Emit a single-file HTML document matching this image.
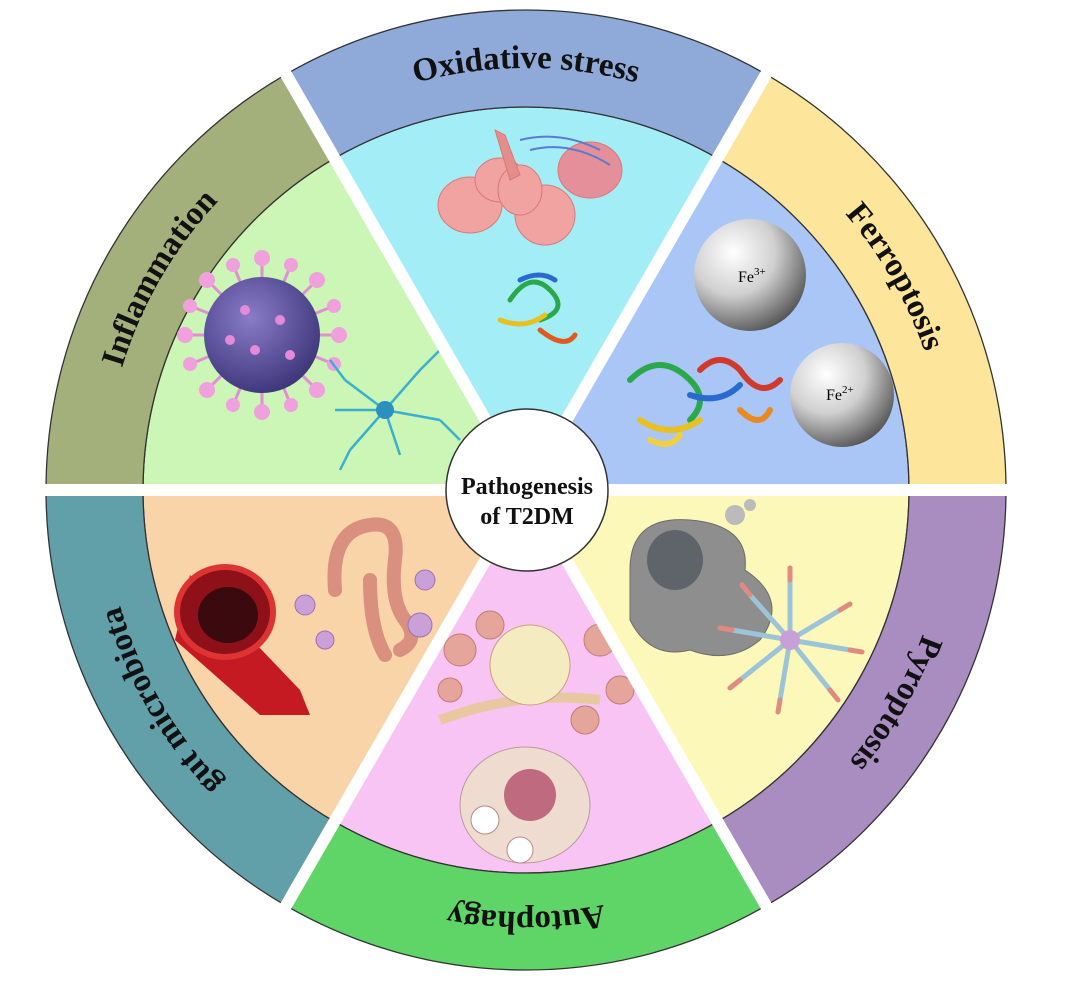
<!DOCTYPE html>
<html><head><meta charset="utf-8"><style>html,body{margin:0;padding:0;background:#fff}svg{display:block}</style></head>
<body>
<svg width="1082" height="983" viewBox="0 0 1082 983" xmlns="http://www.w3.org/2000/svg">
<defs>
<radialGradient id="fe" cx="35%" cy="30%" r="75%">
<stop offset="0" stop-color="#ffffff"/><stop offset="0.5" stop-color="#d0d0d0"/><stop offset="1" stop-color="#555"/>
</radialGradient>
<radialGradient id="vir" cx="40%" cy="35%" r="70%">
<stop offset="0" stop-color="#8a7cc8"/><stop offset="1" stop-color="#3b3478"/>
</radialGradient>
<path id="tp" d="M 104 490 A 422 422 0 1 1 948 490 A 422 422 0 1 1 104 490"/>
</defs>
<g stroke="#333" stroke-width="1.3">
<path d="M526 490 L909 490 A383 383 0 0 0 717.5 158.3 Z" fill="#a9c6f7"/>
<path d="M526 490 L717.5 158.3 A383 383 0 0 0 334.5 158.3 Z" fill="#a3eef6"/>
<path d="M526 490 L334.5 158.3 A383 383 0 0 0 143 490 Z" fill="#cbf6b6"/>
<path d="M526 490 L143 490 A383 383 0 0 0 334.5 821.7 Z" fill="#f9d4a9"/>
<path d="M526 490 L334.5 821.7 A383 383 0 0 0 717.5 821.7 Z" fill="#f7c4f4"/>
<path d="M526 490 L717.5 821.7 A383 383 0 0 0 909 490 Z" fill="#fbf8b9"/>
<path d="M1006 490 A480 480 0 0 0 766 74.3 L717.5 158.3 A383 383 0 0 1 909 490 Z" fill="#fde59b"/>
<path d="M766 74.3 A480 480 0 0 0 286 74.3 L334.5 158.3 A383 383 0 0 1 717.5 158.3 Z" fill="#8fa9d9"/>
<path d="M286 74.3 A480 480 0 0 0 46 490 L143 490 A383 383 0 0 1 334.5 158.3 Z" fill="#a4b07b"/>
<path d="M46 490 A480 480 0 0 0 286 905.7 L334.5 821.7 A383 383 0 0 1 143 490 Z" fill="#61a0a9"/>
<path d="M286 905.7 A480 480 0 0 0 766 905.7 L717.5 821.7 A383 383 0 0 1 334.5 821.7 Z" fill="#60d567"/>
<path d="M766 905.7 A480 480 0 0 0 1006 490 L909 490 A383 383 0 0 1 717.5 821.7 Z" fill="#a98dc1"/>
</g>
<g fill="#f0a3a0" stroke="#d77" stroke-width="1">
<ellipse cx="470" cy="205" rx="32" ry="28"/><ellipse cx="500" cy="180" rx="25" ry="22"/>
<ellipse cx="545" cy="215" rx="30" ry="30"/><ellipse cx="520" cy="190" rx="22" ry="25"/>
<ellipse cx="590" cy="170" rx="32" ry="28" fill="#e58f9a"/>
<path d="M495 130 L505 135 L520 175 L510 180 Z" fill="#e38d8d"/>
</g>
<g fill="none" stroke="#5a7bd0" stroke-width="2"><path d="M520 140 Q560 130 600 150"/><path d="M530 150 Q570 140 610 165"/></g>
<g fill="none" stroke-width="5" stroke-linecap="round">
<path d="M510 300 q20 -30 40 -10 q20 20 -10 30" stroke="#2aa84a"/>
<path d="M500 320 q25 10 45 -5" stroke="#e8c020"/>
<path d="M540 330 q25 20 35 5" stroke="#e05a20"/>
<path d="M520 280 q20 -10 35 0" stroke="#2a6ad0"/>
</g>
<circle cx="750" cy="275" r="56" fill="url(#fe)"/>
<text x="738" y="282" font-family="Liberation Serif,serif" font-size="16">Fe<tspan dy="-7" font-size="11">3+</tspan></text>
<circle cx="842" cy="395" r="52" fill="url(#fe)"/>
<text x="826" y="400" font-family="Liberation Serif,serif" font-size="16">Fe<tspan dy="-7" font-size="11">2+</tspan></text>
<g fill="none" stroke-width="6" stroke-linecap="round">
<path d="M630 380 q30 -30 60 0 q20 20 0 40" stroke="#2aa84a"/>
<path d="M640 420 q30 20 60 0" stroke="#e8c020"/>
<path d="M700 370 q20 -20 40 0 q20 30 40 10" stroke="#d03a2a"/>
<path d="M740 410 q20 20 30 0" stroke="#e88a20"/>
<path d="M690 395 q30 10 50 -10" stroke="#2a6ad0"/>
<path d="M650 440 q20 10 30 -5" stroke="#f0d040"/>
</g>
<g stroke="#e090d0" stroke-width="3">
<line x1="262" y1="255" x2="262" y2="415"/><line x1="182" y1="335" x2="342" y2="335"/>
<line x1="205" y1="278" x2="319" y2="392"/><line x1="319" y1="278" x2="205" y2="392"/>
<line x1="232" y1="262" x2="292" y2="408"/><line x1="292" y1="262" x2="232" y2="408"/>
<line x1="188" y1="305" x2="336" y2="365"/><line x1="188" y1="365" x2="336" y2="305"/>
</g>
<g fill="#f0a0dd"><circle cx="262" cy="258" r="8"/><circle cx="262" cy="412" r="8"/><circle cx="185" cy="335" r="8"/><circle cx="339" cy="335" r="8"/><circle cx="207" cy="280" r="8"/><circle cx="317" cy="390" r="8"/><circle cx="317" cy="280" r="8"/><circle cx="207" cy="390" r="8"/><circle cx="233" cy="265" r="7"/><circle cx="291" cy="405" r="7"/><circle cx="291" cy="265" r="7"/><circle cx="233" cy="405" r="7"/><circle cx="190" cy="306" r="7"/><circle cx="334" cy="364" r="7"/><circle cx="190" cy="364" r="7"/><circle cx="334" cy="306" r="7"/></g>
<circle cx="262" cy="335" r="58" fill="url(#vir)"/>
<g fill="#e48ad6"><circle cx="245" cy="310" r="5"/><circle cx="280" cy="320" r="5"/><circle cx="255" cy="350" r="5"/><circle cx="290" cy="355" r="5"/><circle cx="230" cy="340" r="5"/></g>
<g stroke="#3ab0d0" stroke-width="2.5" fill="none">
<path d="M385 410 L345 380 M385 410 L420 370 M385 410 L440 420 M385 410 L400 455 M385 410 L350 450 M385 410 L335 410 M345 380 L330 360 M420 370 L440 350 M440 420 L460 440 M350 450 L340 470"/>
</g>
<circle cx="385" cy="410" r="9" fill="#2a90c0"/>
<path d="M190 575 L300 690 L310 715 L260 715 L175 640 Z" fill="#c51a22"/>
<ellipse cx="225" cy="612" rx="48" ry="45" fill="#8e1018" stroke="#d33" stroke-width="6"/>
<ellipse cx="228" cy="615" rx="30" ry="28" fill="#3a0a0e"/>
<g fill="none" stroke="#d9907f" stroke-width="14" stroke-linecap="round">
<path d="M335 590 Q330 530 370 525 Q400 520 395 560 Q390 600 405 620 Q420 640 400 650"/>
<path d="M370 580 Q370 630 385 655"/>
</g>
<g fill="#c9a0d8" stroke="#a070b0"><circle cx="305" cy="605" r="10"/><circle cx="325" cy="640" r="9"/><circle cx="425" cy="580" r="10"/><circle cx="420" cy="625" r="12"/></g>
<path d="M630 570 Q630 515 690 520 Q750 525 745 570 Q790 600 760 640 Q730 665 690 650 Q650 660 630 620 Z" fill="#8e8e8e" stroke="#6c6c6c"/>
<ellipse cx="675" cy="560" rx="28" ry="30" fill="#5f646b"/>
<circle cx="735" cy="515" r="10" fill="#bbb"/><circle cx="750" cy="505" r="6" fill="#bbb"/>
<g stroke-width="5" stroke-linecap="round">
<g stroke="#9cc4d8"><line x1="790" y1="640" x2="790" y2="580"/><line x1="790" y1="640" x2="840" y2="610"/><line x1="790" y1="640" x2="850" y2="650"/><line x1="790" y1="640" x2="830" y2="690"/><line x1="790" y1="640" x2="780" y2="700"/><line x1="790" y1="640" x2="740" y2="680"/><line x1="790" y1="640" x2="732" y2="630"/><line x1="790" y1="640" x2="750" y2="595"/></g>
<g stroke="#e08a80"><line x1="790" y1="580" x2="790" y2="568"/><line x1="840" y1="610" x2="850" y2="604"/><line x1="850" y1="650" x2="862" y2="652"/><line x1="830" y1="690" x2="838" y2="700"/><line x1="780" y1="700" x2="778" y2="712"/><line x1="740" y1="680" x2="730" y2="688"/><line x1="732" y1="630" x2="720" y2="628"/><line x1="750" y1="595" x2="742" y2="585"/></g>
</g>
<circle cx="790" cy="640" r="10" fill="#c8a0d8"/>
<g fill="#e6a59a" stroke="#c07d75"><circle cx="460" cy="650" r="16"/><circle cx="490" cy="625" r="14"/><circle cx="600" cy="640" r="16"/><circle cx="620" cy="690" r="14"/><circle cx="585" cy="720" r="14"/><circle cx="450" cy="690" r="12"/></g>
<path d="M440 720 Q520 690 600 700" stroke="#e8c8a0" stroke-width="10" fill="none"/>
<circle cx="530" cy="665" r="40" fill="#f4ecc0" stroke="#c9a080"/>
<ellipse cx="525" cy="805" rx="65" ry="58" fill="#eedcd0" stroke="#b99"/>
<circle cx="530" cy="795" r="26" fill="#c06a80"/>
<circle cx="485" cy="820" r="14" fill="#fff" stroke="#b88"/><circle cx="520" cy="850" r="13" fill="#fff" stroke="#b88"/>
<g stroke="#fff" stroke-width="12" stroke-linecap="butt">
<line x1="526" y1="490" x2="1030" y2="490"/><line x1="526" y1="490" x2="22" y2="490"/>
<line x1="526" y1="490" x2="778" y2="53.5"/><line x1="526" y1="490" x2="274" y2="53.5"/>
<line x1="526" y1="490" x2="274" y2="926.5"/><line x1="526" y1="490" x2="778" y2="926.5"/>
</g>
<circle cx="527" cy="490" r="81" fill="#fff" stroke="#333" stroke-width="1.5"/>
<g font-family="Liberation Serif,serif" font-weight="bold" font-size="24" text-anchor="middle" fill="#111">
<text x="527" y="494">Pathogenesis</text><text x="527" y="524">of T2DM</text>
</g>
<g font-family="Liberation Serif,serif" font-weight="bold" font-size="33" fill="#111" text-anchor="middle">
<text><textPath href="#tp" startOffset="8.33%">Inflammation</textPath></text>
<text><textPath href="#tp" startOffset="25%">Oxidative stress</textPath></text>
<text><textPath href="#tp" startOffset="41.67%">Ferroptosis</textPath></text>
<text><textPath href="#tp" startOffset="58.33%">Pyroptosis</textPath></text>
<text><textPath href="#tp" startOffset="75%">Autophagy</textPath></text>
<text><textPath href="#tp" startOffset="91.67%">gut microbiota</textPath></text>
</g>
</svg>
</body></html>
